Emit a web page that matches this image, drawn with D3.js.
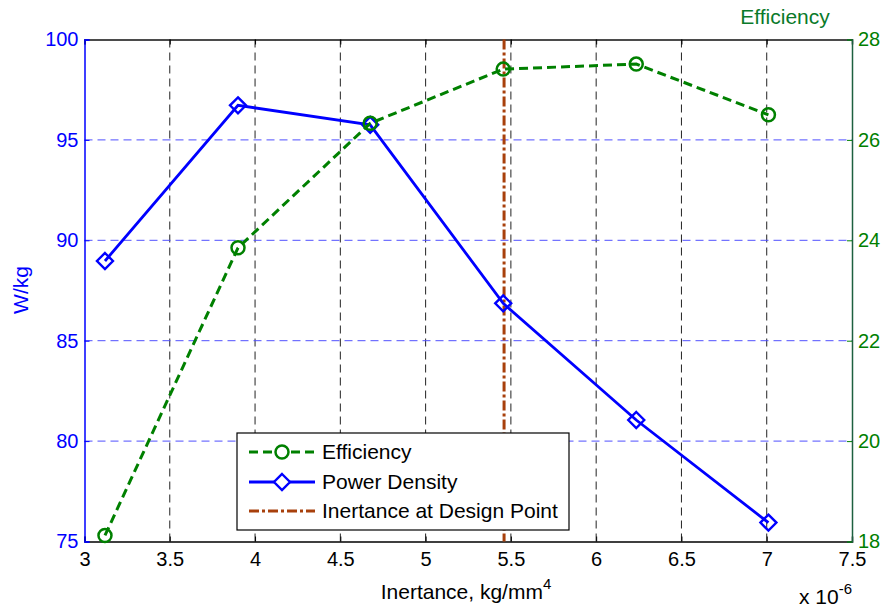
<!DOCTYPE html>
<html lang="en">
<head>
    <meta charset="UTF-8">
    <title>Efficiency and Power Density vs Inertance</title>
    <script src="https://d3js.org/d3.v7.min.js"></script>
    <style>
        body { margin: 0; background: #fff; }
        svg { display: block; font-family: "Liberation Sans", Arial, sans-serif; }
        .tick-label { font-size: 20px; }
    </style>
</head>
<body>
<div id="chart"></div>
<script>
    // data (inertance in units of 1e-6 kg/mm^4)
    const inertance = [3.12, 3.9, 4.675, 5.455, 6.235, 7.01];
    const powerDensity = [88.97, 96.72, 95.75, 86.86, 81.05, 75.94];
    const efficiency = [18.12, 23.85, 26.33, 27.41, 27.51, 26.5];
    const designPoint = 5.46;

    const xTicks = [3, 3.5, 4, 4.5, 5, 5.5, 6, 6.5, 7, 7.5];
    const leftTicks = [75, 80, 85, 90, 95, 100];
    const rightTicks = [18, 20, 22, 24, 26, 28];

    const legendItems = ["Efficiency", "Power Density", "Inertance at Design Point"];

    const width = 882, height = 609;
    const margin = {left: 84.5, right: 30, top: 39.5, bottom: 67.5};
    const plotW = width - margin.left - margin.right;
    const plotH = height - margin.top - margin.bottom;

    const green = "#008000", blue = "#0000ff", brown = "#a8400c";

    const svg = d3.select("#chart").append("svg")
        .attr("width", width)
        .attr("height", height);

    const g = svg.append("g").attr("transform", `translate(${margin.left},${margin.top})`);

    const x = d3.scaleLinear().domain([3, 7.5]).range([0, plotW]);
    const yL = d3.scaleLinear().domain([75, 100]).range([plotH, 0]);
    const yR = d3.scaleLinear().domain([18, 28]).range([plotH, 0]);

    // grid
    g.append("g").selectAll("line")
        .data(xTicks.slice(1, -1))
        .join("line")
        .attr("x1", d => x(d)).attr("x2", d => x(d))
        .attr("y1", 0).attr("y2", plotH)
        .attr("stroke", "#222").attr("stroke-width", 1)
        .attr("stroke-dasharray", "8,5");

    g.append("g").selectAll("line")
        .data(leftTicks.slice(1, -1))
        .join("line")
        .attr("x1", 0).attr("x2", plotW)
        .attr("y1", d => yL(d)).attr("y2", d => yL(d))
        .attr("stroke", "#5050ff").attr("stroke-width", 1)
        .attr("stroke-dasharray", "8,5");

    // axes (ticks inward)
    const xAxis = g.append("g")
        .attr("transform", `translate(0,${plotH})`)
        .call(d3.axisBottom(x).tickValues(xTicks).tickFormat(d3.format("")).tickSize(-5).tickPadding(10));
    xAxis.select(".domain").attr("stroke", "#000").attr("stroke-width", 1.5);
    xAxis.selectAll(".tick line").attr("stroke", "#000");
    xAxis.selectAll("text").attr("class", "tick-label").attr("fill", "#000")
        .attr("font-family", null).attr("font-size", null);

    const topAxis = g.append("g")
        .call(d3.axisTop(x).tickValues(xTicks).tickFormat("").tickSize(-5));
    topAxis.select(".domain").attr("stroke", "#111").attr("stroke-width", 1.5);
    topAxis.selectAll(".tick line").attr("stroke", "#000");

    const leftAxis = g.append("g")
        .call(d3.axisLeft(yL).tickValues(leftTicks).tickSize(-5).tickPadding(6));
    leftAxis.select(".domain").attr("stroke", blue).attr("stroke-width", 1.5);
    leftAxis.selectAll(".tick line").attr("stroke", blue);
    leftAxis.selectAll("text").attr("class", "tick-label").attr("fill", blue)
        .attr("font-family", null).attr("font-size", null);

    const rightAxis = g.append("g")
        .attr("transform", `translate(${plotW},0)`)
        .call(d3.axisRight(yR).tickValues(rightTicks).tickSize(-5).tickPadding(6));
    rightAxis.select(".domain").attr("stroke", "#1d6040").attr("stroke-width", 1.5);
    rightAxis.selectAll(".tick line").attr("stroke", green);
    rightAxis.selectAll("text").attr("class", "tick-label").attr("fill", green)
        .attr("font-family", null).attr("font-size", null);

    // design point line
    g.append("line")
        .attr("x1", x(designPoint)).attr("x2", x(designPoint))
        .attr("y1", 0).attr("y2", plotH)
        .attr("stroke", brown).attr("stroke-width", 3)
        .attr("stroke-dasharray", "10,3,3,3");

    // power density
    const pts = inertance.map((d, i) => ({x: d, p: powerDensity[i], e: efficiency[i]}));

    g.append("path")
        .datum(pts)
        .attr("fill", "none")
        .attr("stroke", blue).attr("stroke-width", 2.8)
        .attr("d", d3.line().x(d => x(d.x)).y(d => yL(d.p)));

    const diamond = (cx, cy, r) => `M${cx},${cy - r}L${cx + r},${cy}L${cx},${cy + r}L${cx - r},${cy}Z`;

    g.append("g").selectAll("path")
        .data(pts)
        .join("path")
        .attr("d", d => diamond(x(d.x), yL(d.p), 8))
        .attr("fill", "none").attr("stroke", blue).attr("stroke-width", 2.4);

    // efficiency
    g.append("path")
        .datum(pts)
        .attr("fill", "none")
        .attr("stroke", green).attr("stroke-width", 3)
        .attr("stroke-dasharray", "9,5")
        .attr("d", d3.line().x(d => x(d.x)).y(d => yR(d.e)));

    g.append("g").selectAll("circle")
        .data(pts)
        .join("circle")
        .attr("cx", d => x(d.x)).attr("cy", d => yR(d.e))
        .attr("r", 6.5)
        .attr("fill", "none").attr("stroke", green).attr("stroke-width", 2.5);

    // labels
    svg.append("text")
        .attr("transform", "translate(28,290) rotate(-90)")
        .attr("text-anchor", "middle")
        .attr("font-size", 21).attr("fill", blue)
        .text("W/kg");

    svg.append("text")
        .attr("x", 785).attr("y", 24)
        .attr("text-anchor", "middle")
        .attr("font-size", 21).attr("fill", "#0a7a2a")
        .text("Efficiency");

    const xl = svg.append("text")
        .attr("x", 466).attr("y", 599)
        .attr("text-anchor", "middle")
        .attr("font-size", 21).attr("fill", "#000");
    xl.append("tspan").text("Inertance, kg/mm");
    xl.append("tspan").attr("font-size", 15).attr("dy", -10).text("4");

    const ex = svg.append("text")
        .attr("x", 799).attr("y", 604)
        .attr("font-size", 21).attr("fill", "#000");
    ex.append("tspan").text("x 10");
    ex.append("tspan").attr("font-size", 15).attr("dy", -10).text("-6");

    // legend
    const lg = svg.append("g").attr("transform", "translate(237,433)");
    lg.append("rect")
        .attr("width", 332).attr("height", 97)
        .attr("fill", "#fff").attr("stroke", "#000").attr("stroke-width", 1.2);

    const rowY = [19, 49, 78];
    legendItems.forEach((name, i) => {
        const row = lg.append("g").attr("transform", `translate(0,${rowY[i]})`);
        if (i === 0) {
            row.append("line").attr("x1", 12).attr("x2", 78)
                .attr("stroke", green).attr("stroke-width", 3).attr("stroke-dasharray", "9,5");
            row.append("circle").attr("cx", 45).attr("r", 6.5)
                .attr("fill", "#fff").attr("stroke", green).attr("stroke-width", 2.5);
        } else if (i === 1) {
            row.append("line").attr("x1", 12).attr("x2", 78)
                .attr("stroke", blue).attr("stroke-width", 2.8);
            row.append("path").attr("d", diamond(45, 0, 8))
                .attr("fill", "#fff").attr("stroke", blue).attr("stroke-width", 2.4);
        } else {
            row.append("line").attr("x1", 12).attr("x2", 78)
                .attr("stroke", brown).attr("stroke-width", 3).attr("stroke-dasharray", "10,3,3,3");
        }
        row.append("text")
            .attr("x", 85).attr("y", 7)
            .attr("font-size", 21).attr("fill", "#000")
            .text(name);
    });
</script>
</body>
</html>
